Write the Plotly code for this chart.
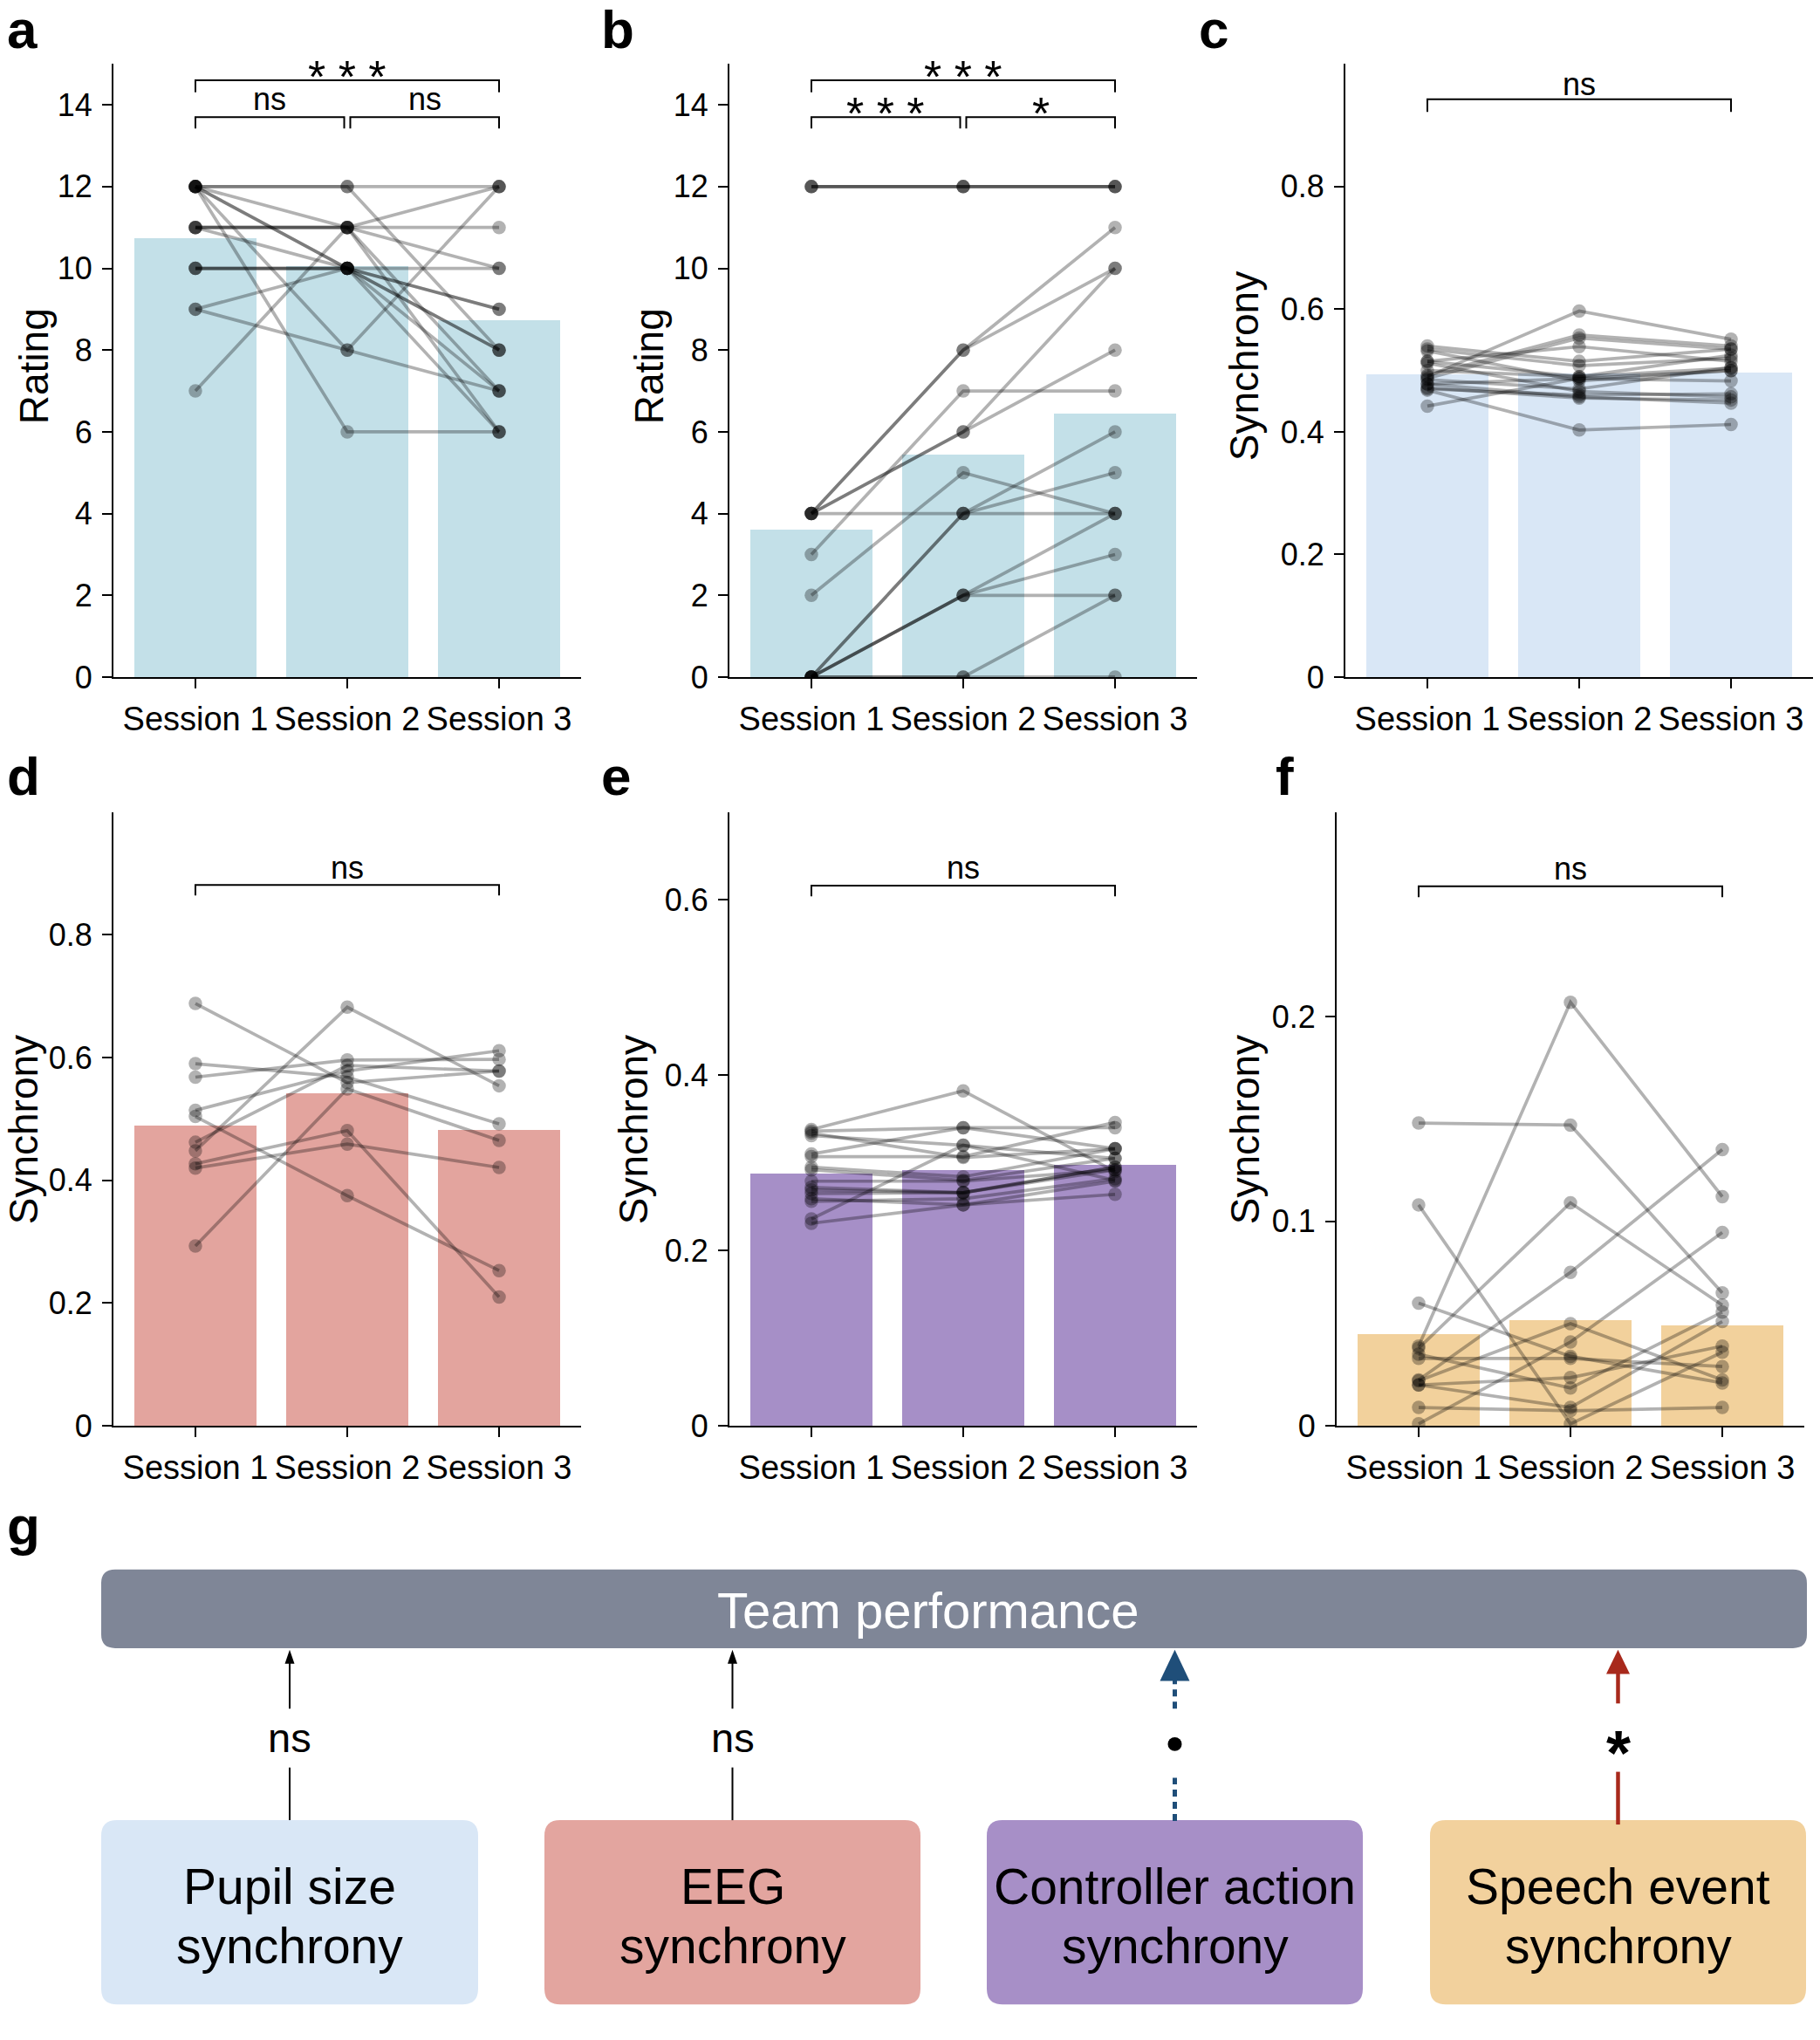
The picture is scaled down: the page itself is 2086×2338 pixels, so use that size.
import plotly.graph_objects as go

W, H = 2086, 2338
FONT = "Liberation Sans"

sessions = ["Session 1", "Session 2", "Session 3"]
session_pos = [0, 1, 2]

# ---------- data ----------
# a: self-rated performance (Rating)
a_s1 = [12, 12, 12, 12, 12, 12, 12, 11, 11, 11, 10, 10, 10, 9, 9, 7, 11]
a_s2 = [12, 12, 11, 10, 10, 8, 6, 11, 11, 10, 10, 10, 10, 10, 8, 11, 11]
a_s3 = [12, 8, 10, 9, 6, 12, 6, 11, 7, 9, 10, 8, 8, 7, 7, 12, 6]
a_bar = [10.72, 10.05, 8.72]

# b: team performance (Rating)
b_s1 = [12, 12, 12, 4, 4, 4, 4, 4, 3, 2, 0, 0, 0, 0, 0, 0, 0]
b_s2 = [12, 12, 12, 8, 8, 6, 6, 4, 7, 5, 4, 4, 2, 2, 2, 0, 0]
b_s3 = [12, 12, 12, 11, 10, 10, 8, 4, 7, 4, 6, 5, 4, 3, 2, 2, 0]
b_bar = [3.6, 5.43, 6.45]

# c: pupil size synchrony
c_s1 = [0.540, 0.535, 0.532, 0.515, 0.512, 0.515, 0.492, 0.487, 0.490, 0.478, 0.478, 0.468, 0.470, 0.442, 0.485, 0.472, 0.500]
c_s2 = [0.515, 0.508, 0.483, 0.490, 0.466, 0.539, 0.558, 0.553, 0.597, 0.487, 0.457, 0.403, 0.460, 0.487, 0.470, 0.455, 0.490]
c_s3 = [0.535, 0.520, 0.500, 0.504, 0.457, 0.515, 0.540, 0.535, 0.551, 0.500, 0.447, 0.412, 0.462, 0.483, 0.505, 0.452, 0.525]
c_bar = [0.493, 0.495, 0.496]

# d: EEG synchrony
d_s1 = [0.688, 0.448, 0.293, 0.590, 0.568, 0.514, 0.504, 0.462, 0.427, 0.420]
d_s2 = [0.559, 0.682, 0.549, 0.568, 0.596, 0.578, 0.375, 0.587, 0.481, 0.459]
d_s3 = [0.578, 0.554, 0.465, 0.492, 0.597, 0.611, 0.253, 0.578, 0.210, 0.421]
d_bar = [0.490, 0.542, 0.483]

# e: controller action synchrony
e_s1 = [0.338, 0.336, 0.334, 0.331, 0.310, 0.307, 0.295, 0.292, 0.279, 0.272, 0.269, 0.265, 0.259, 0.256, 0.236, 0.231]
e_s2 = [0.382, 0.340, 0.306, 0.320, 0.340, 0.307, 0.284, 0.280, 0.279, 0.266, 0.266, 0.266, 0.252, 0.259, 0.320, 0.252]
e_s3 = [0.290, 0.340, 0.316, 0.305, 0.316, 0.346, 0.316, 0.305, 0.292, 0.295, 0.292, 0.295, 0.264, 0.282, 0.280, 0.279]
e_bar = [0.288, 0.2925, 0.298]

# f: speech event synchrony
f_s1 = [0.148, 0.108, 0.060, 0.039, 0.033, 0.0225, 0.020, 0.009, 0.001, 0.038, 0.022, 0.020, 0.035]
f_s2 = [0.147, 0.001, 0.034, 0.207, 0.033, 0.075, 0.009, 0.0074, 0.041, 0.109, 0.050, 0.0236, 0.0185]
f_s3 = [0.065, 0.036, 0.021, 0.112, 0.029, 0.135, 0.051, 0.009, 0.0945, 0.059, 0.0225, 0.039, 0.0556]
f_bar = [0.045, 0.052, 0.0494]

rating_ticks = [0, 2, 4, 6, 8, 10, 12, 14]
rating_ticktext = ["0", "2", "4", "6", "8", "10", "12", "14"]
sync_ticks_c = [0, 0.2, 0.4, 0.6, 0.8]
sync_ticktext_c = ["0", "0.2", "0.4", "0.6", "0.8"]
sync_ticks_e = [0, 0.2, 0.4, 0.6]
sync_ticktext_e = ["0", "0.2", "0.4", "0.6"]
sync_ticks_f = [0, 0.1, 0.2]
sync_ticktext_f = ["0", "0.1", "0.2"]

# significance brackets: (x0, x1, y_top, y_leg_end, label, yshift, size)
a_sig = [(0, 2, 14.60, 14.31, "* * *", 4, 52), (0, 0.98, 13.70, 13.42, "ns", 21, 36), (1.02, 2, 13.70, 13.42, "ns", 21, 36)]
b_sig = [(0, 2, 14.60, 14.31, "* * *", 4, 52), (0, 0.98, 13.70, 13.42, "* * *", 4, 52), (1.02, 2, 13.70, 13.42, "*", 4, 52)]
c_sig = [(0, 2, 0.9425, 0.922, "ns", 17, 36)]
d_sig = [(0, 2, 0.881, 0.864, "ns", 20, 36)]
e_sig = [(0, 2, 0.616, 0.6037, "ns", 20, 36)]
f_sig = [(0, 2, 0.2637, 0.2584, "ns", 20, 36)]

# panel g
g_sources = [["Pupil size", "synchrony"], ["EEG", "synchrony"], ["Controller action", "synchrony"], ["Speech event", "synchrony"]]
g_labels = ["ns", "ns", "•", "*"]
g_target = "Team performance"


def px(x):
    return x / W


def py(y):
    return 1 - y / H


panels = [
    dict(lab="a", s=(a_s1, a_s2, a_s3), bar=a_bar, col="#c3e0e8", xd=(130, 666), yd=(74, 783), yr=(0, 15),
         tv=rating_ticks, tt=rating_ticktext, sig=a_sig, title="Rating", tx=39, ty=424, lx=6, lb=55),
    dict(lab="b", s=(b_s1, b_s2, b_s3), bar=b_bar, col="#c3e0e8", xd=(836, 1372), yd=(74, 783), yr=(0, 15),
         tv=rating_ticks, tt=rating_ticktext, sig=b_sig, title="Rating", tx=744, ty=424, lx=687, lb=55),
    dict(lab="c", s=(c_s1, c_s2, c_s3), bar=c_bar, col="#d9e7f6", xd=(1542, 2078), yd=(74, 783), yr=(0, 1.0),
         tv=sync_ticks_c, tt=sync_ticktext_c, sig=c_sig, title="Synchrony", tx=1426, ty=424, lx=1372, lb=55),
    dict(lab="d", s=(d_s1, d_s2, d_s3), bar=d_bar, col="#e3a49e", xd=(130, 666), yd=(939, 1649), yr=(0, 1.0),
         tv=sync_ticks_c, tt=sync_ticktext_c, sig=d_sig, title="Synchrony", tx=27, ty=1307, lx=6, lb=919),
    dict(lab="e", s=(e_s1, e_s2, e_s3), bar=e_bar, col="#a68fc7", xd=(836, 1372), yd=(939, 1649), yr=(0, 0.7),
         tv=sync_ticks_e, tt=sync_ticktext_e, sig=e_sig, title="Synchrony", tx=726, ty=1307, lx=687, lb=919),
    dict(lab="f", s=(f_s1, f_s2, f_s3), bar=f_bar, col="#f2d19c", xd=(1532, 2068), yd=(939, 1649), yr=(0, 0.3),
         tv=sync_ticks_f, tt=sync_ticktext_f, sig=f_sig, title="Synchrony", tx=1427, ty=1307, lx=1460, lb=919),
]

fig = go.Figure()
shapes = []
annotations = []
layout_axes = {}

LINE_COL = "rgba(0,0,0,0.3)"

for i, p in enumerate(panels, start=1):
    xa = "x" if i == 1 else f"x{i}"
    ya = "y" if i == 1 else f"y{i}"
    xkey = "xaxis" if i == 1 else f"xaxis{i}"
    ykey = "yaxis" if i == 1 else f"yaxis{i}"

    fig.add_trace(go.Bar(x=session_pos, y=p["bar"], width=0.8, marker=dict(color=p["col"], line=dict(width=0)),
                         xaxis=xa, yaxis=ya, showlegend=False, hoverinfo="skip"))
    s1, s2, s3 = p["s"]
    for v1, v2, v3 in zip(s1, s2, s3):
        fig.add_trace(go.Scatter(x=session_pos, y=[v1, v2, v3], mode="lines+markers",
                                 line=dict(color=LINE_COL, width=3.7),
                                 marker=dict(color=LINE_COL, size=15.5, line=dict(width=0)),
                                 xaxis=xa, yaxis=ya, showlegend=False, hoverinfo="skip"))

    common = dict(showline=True, linecolor="black", linewidth=2, ticks="outside", ticklen=11, tickwidth=2,
                  tickcolor="black", showgrid=False, zeroline=False, fixedrange=True)
    layout_axes[xkey] = dict(domain=[px(p["xd"][0]), px(p["xd"][1])], range=[-0.54, 2.54], tickvals=session_pos,
                             ticktext=sessions, anchor=ya, ticklabelstandoff=2,
                             tickfont=dict(size=38, color="black", family=FONT), **common)
    layout_axes[ykey] = dict(domain=[py(p["yd"][1]), py(p["yd"][0])], range=list(p["yr"]), tickvals=p["tv"],
                             ticktext=p["tt"], anchor=xa, ticklabelstandoff=4,
                             tickfont=dict(size=36, color="black", family=FONT), **common)

    for (x0, x1, yt, yl, lab, ysh, fs) in p["sig"]:
        shapes.append(dict(type="path", xref=xa, yref=ya,
                           path=f"M {x0},{yl} L {x0},{yt} L {x1},{yt} L {x1},{yl}",
                           line=dict(color="black", width=2)))
        annotations.append(dict(x=(x0 + x1) / 2, y=yt, xref=xa, yref=ya, text=lab, showarrow=False,
                                xanchor="center", yanchor="middle", yshift=ysh,
                                font=dict(size=fs, color="black", family=FONT)))

    # axis title
    annotations.append(dict(x=px(p["tx"]), y=py(p["ty"]), xref="paper", yref="paper", text=p["title"],
                            textangle=-90, showarrow=False, xanchor="center", yanchor="middle",
                            font=dict(size=46, color="black", family=FONT)))
    # panel letter
    annotations.append(dict(x=px(p["lx"]), y=py(p["lb"] - 0.3465 * 62), xref="paper", yref="paper",
                            text=f"<b>{p['lab']}</b>", showarrow=False, xanchor="left", yanchor="middle",
                            font=dict(size=62, color="black", family=FONT)))

# ---------- panel g ----------
annotations.append(dict(x=px(6), y=py(1786 - 0.3465 * 62), xref="paper", yref="paper", text="<b>g</b>",
                        showarrow=False, xanchor="left", yanchor="middle", font=dict(size=62, color="black", family=FONT)))


def rrect(x0, y0, x1, y1, r):
    def P(x, y):
        return f"{px(x):.6f},{py(y):.6f}"
    return (f"M {P(x0 + r, y0)} L {P(x1 - r, y0)} Q {P(x1, y0)} {P(x1, y0 + r)} L {P(x1, y1 - r)} "
            f"Q {P(x1, y1)} {P(x1 - r, y1)} L {P(x0 + r, y1)} Q {P(x0, y1)} {P(x0, y1 - r)} "
            f"L {P(x0, y0 + r)} Q {P(x0, y0)} {P(x0 + r, y0)} Z")


def tri(xc, tip, base, hw):
    return f"M {px(xc - hw):.6f},{py(base):.6f} L {px(xc):.6f},{py(tip):.6f} L {px(xc + hw):.6f},{py(base):.6f} Z"


# target box
shapes.append(dict(type="path", xref="paper", yref="paper", path=rrect(116, 1815, 2071, 1906, 16),
                   fillcolor="#7f8697", line=dict(width=0), layer="below"))
annotations.append(dict(x=px(1064), y=py(1882 - 0.3465 * 58), xref="paper", yref="paper", text=g_target,
                        showarrow=False, xanchor="center", yanchor="middle", font=dict(size=58, color="white", family=FONT)))

box_x = [(116, 548), (624, 1055), (1131, 1562), (1639, 2070)]
box_cols = ["#d9e7f6", "#e3a59f", "#a78fc7", "#f2d19d"]
for (x0, x1), col, lines in zip(box_x, box_cols, g_sources):
    shapes.append(dict(type="path", xref="paper", yref="paper", path=rrect(x0, 2105, x1, 2318, 18),
                       fillcolor=col, line=dict(width=0), layer="below"))
    for ln, base in zip(lines, [2201, 2270]):
        annotations.append(dict(x=px((x0 + x1) / 2), y=py(base - 0.3465 * 57), xref="paper", yref="paper", text=ln,
                                showarrow=False, xanchor="center", yanchor="middle",
                                font=dict(size=57, color="black", family=FONT)))

arrow_x = [(x0 + x1) / 2 for x0, x1 in box_x]
TIP = 1908
# black thin arrows (ns)
for k in range(2):
    xc = arrow_x[k]
    shapes.append(dict(type="line", xref="paper", yref="paper", x0=px(xc), x1=px(xc), y0=py(2105), y1=py(2044),
                       line=dict(color="black", width=2)))
    shapes.append(dict(type="line", xref="paper", yref="paper", x0=px(xc), x1=px(xc), y0=py(1976), y1=py(1920),
                       line=dict(color="black", width=2)))
    shapes.append(dict(type="path", xref="paper", yref="paper", path=tri(xc, TIP, 1924, 5.5),
                       fillcolor="black", line=dict(width=0)))
    annotations.append(dict(x=px(xc), y=py(2026 - 0.3465 * 47), xref="paper", yref="paper", text=g_labels[k],
                            showarrow=False, xanchor="center", yanchor="middle",
                            font=dict(size=47, color="black", family=FONT)))

# blue dashed arrow (trend)
BLUE = "#1f4e79"
xc = arrow_x[2]
shapes.append(dict(type="line", xref="paper", yref="paper", x0=px(xc), x1=px(xc), y0=py(2106), y1=py(2056),
                   line=dict(color=BLUE, width=5, dash="8px,6px")))
shapes.append(dict(type="line", xref="paper", yref="paper", x0=px(xc), x1=px(xc), y0=py(1976), y1=py(1940),
                   line=dict(color=BLUE, width=5, dash="8px,6px")))
shapes.append(dict(type="path", xref="paper", yref="paper", path=tri(xc, TIP, 1944, 17),
                   fillcolor=BLUE, line=dict(width=0)))
shapes.append(dict(type="circle", xref="paper", yref="paper", x0=px(xc - 8), x1=px(xc + 8), y0=py(2025), y1=py(2009),
                   fillcolor="black", line=dict(width=0)))

# red solid arrow (significant)
RED = "#a8291c"
xc = arrow_x[3]
shapes.append(dict(type="line", xref="paper", yref="paper", x0=px(xc), x1=px(xc), y0=py(2110), y1=py(2049),
                   line=dict(color=RED, width=4.5)))
shapes.append(dict(type="line", xref="paper", yref="paper", x0=px(xc), x1=px(xc), y0=py(1970), y1=py(1930),
                   line=dict(color=RED, width=4.5)))
shapes.append(dict(type="path", xref="paper", yref="paper", path=tri(xc, TIP, 1936, 13.5),
                   fillcolor=RED, line=dict(width=0)))
annotations.append(dict(x=px(xc), y=py(2013), xref="paper", yref="paper", text="<b>*</b>", showarrow=False,
                        xanchor="center", yanchor="middle", yshift=-14,
                        font=dict(size=72, color="black", family=FONT)))

fig.update_layout(width=W, height=H, margin=dict(l=0, r=0, t=0, b=0), paper_bgcolor="white", plot_bgcolor="white",
                  showlegend=False, font=dict(family=FONT, color="black"), shapes=shapes, annotations=annotations,
                  bargap=0, **layout_axes)

fig.write_html("out.html", include_plotlyjs=True, full_html=True, config={"displayModeBar": False},
               post_script="document.body.style.margin='0';document.body.style.overflow='hidden';")
